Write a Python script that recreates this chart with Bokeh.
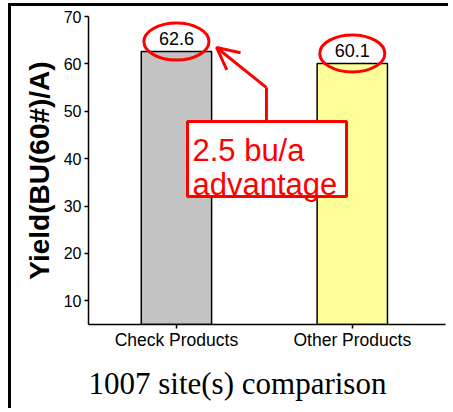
from bokeh.plotting import figure
from bokeh.models import Range1d, FixedTicker, Title, Arrow, OpenHead
from bokeh.embed import file_html
from bokeh.resources import INLINE
from bokeh.core.properties import value

# ---- data ----
categories = ["Check Products", "Other Products"]
yields = [62.6, 60.1]
bar_colors = ["#c3c3c3", "#ffff99"]
value_labels = ["62.6", "60.1"]
y_ticks = [10, 20, 30, 40, 50, 60, 70]
title_text = "1007 site(s) comparison"
y_label = "Yield(BU(60#)/A)"
note_lines = ["2.5 bu/a", "advantage"]

# ---- layout ----
W, H = 440, 405
BL, BR, BT, BB = 77, 6, 10, 87
Y0, Y1 = 5, 70
X1 = 2.03
frame_h = H - BT - BB
ppu = frame_h / (Y1 - Y0)

xs = [i + 0.5 for i in range(len(categories))]
FONT = value("Liberation Sans")

p = figure(width=W, height=H, x_range=Range1d(0, X1), y_range=Range1d(Y0, Y1),
           output_backend="svg", toolbar_location=None,
           min_border_left=BL, min_border_right=BR, min_border_top=BT, min_border_bottom=BB)
p.styles = {"border-left": "3px solid black", "border-top": "3px solid black",
            "margin-left": "8px", "margin-top": "3px"}
p.xgrid.visible = False
p.ygrid.visible = False
p.outline_line_color = None
p.background_fill_color = "white"
p.border_fill_color = "white"

# bars
p.vbar(x=xs, top=yields, bottom=Y0, width=0.4, fill_color=bar_colors,
       line_color="black", line_width=1.5)

# annotation box and arrow
p.quad(left=[0.563], right=[1.467], top=[47.84], bottom=[32.0],
       fill_color="white", line_color="red", line_width=3)
p.text(x=[0.591, 0.591], y=[41.7, 34.5], text=note_lines, text_color="red",
       text_font=FONT, text_font_size="31px", text_align="left", text_baseline="alphabetic")
p.line(x=[1.012, 1.012], y=[47.84, 55.0], line_color="red", line_width=3)
p.add_layout(Arrow(end=OpenHead(line_color="red", line_width=3, size=22),
                   x_start=1.012, y_start=55.0, x_end=0.728, y_end=63.46,
                   line_color="red", line_width=3))

# value labels with ellipses
p.text(x=xs, y=yields, text=value_labels, y_offset=-13, text_align="center",
       text_baseline="middle", text_font=FONT, text_font_size="18px", text_color="black")
p.ellipse(x=xs, y=[v + 10 / ppu for v in yields], width=0.37, height=37 / ppu,
          fill_color=None, line_color="red", line_width=3)

# axes
p.yaxis.ticker = FixedTicker(ticks=y_ticks)
p.yaxis.axis_label = y_label
p.yaxis.axis_label_text_font = "Liberation Sans"
p.yaxis.axis_label_text_font_style = "bold"
p.yaxis.axis_label_text_font_size = "28px"
p.yaxis.axis_label_text_color = "black"
p.yaxis.axis_label_standoff = 6
p.xaxis.ticker = FixedTicker(ticks=xs)
p.xaxis.major_label_overrides = {x: c for x, c in zip(xs, categories)}
for ax in (p.xaxis, p.yaxis):
    ax.axis_line_width = 1.5
    ax.axis_line_color = "black"
    ax.major_tick_line_color = "black"
    ax.major_tick_line_width = 1.5
    ax.major_tick_out = 4
    ax.major_tick_in = 0
    ax.minor_tick_line_color = None
    ax.major_label_text_font = "Liberation Sans"
    ax.major_label_text_color = "black"
    ax.major_label_standoff = 3
p.yaxis.major_label_text_font_size = "16px"
p.xaxis.major_label_text_font_size = "17.5px"
p.xaxis.major_label_standoff = 1

# bottom caption
p.add_layout(Title(text=title_text, align="left", offset=0, standoff=22,
                   text_font="Liberation Serif", text_font_style="normal",
                   text_font_size="31px", text_color="black"), "below")

open("out.html", "w").write(file_html(p, INLINE))
